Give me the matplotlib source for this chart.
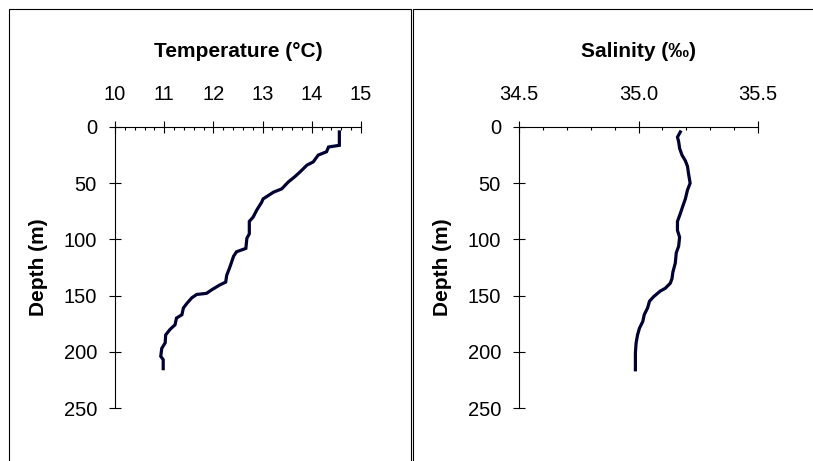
import matplotlib.pyplot as plt
from matplotlib.patches import Rectangle
from matplotlib.ticker import MultipleLocator, FormatStrFormatter

plt.rcParams['font.family'] = ['Liberation Sans', 'DejaVu Sans']

# temperature profile (deg C) vs depth (m)
temp = [14.56, 14.56, 14.34, 14.30, 14.13, 14.03, 13.90, 13.76, 13.66, 13.52,
        13.39, 13.22, 13.01, 12.98, 12.88, 12.81, 12.73, 12.73, 12.68, 12.66,
        12.47, 12.41, 12.34, 12.27, 12.25, 12.13, 11.96, 11.86, 11.66, 11.56,
        11.46, 11.39, 11.36, 11.25, 11.22, 11.12, 11.03, 11.02, 10.95, 10.93,
        10.98, 10.98]
temp_depth = [4.4, 16.3, 17.8, 22, 25, 31, 34, 40, 44, 49,
              55, 58, 64, 67, 74, 80, 84, 95, 99, 108,
              111, 115, 124, 132, 138, 140.5, 145, 148, 149, 152,
              157, 161, 167, 170, 176, 180, 185, 192, 197, 204,
              207, 215]

# salinity profile (permil) vs depth (m)
sal = [35.175, 35.163, 35.168, 35.172, 35.182, 35.196, 35.205, 35.209, 35.216,
       35.205, 35.196, 35.186, 35.175, 35.163, 35.163, 35.172, 35.168, 35.158,
       35.154, 35.144, 35.140, 35.133, 35.112, 35.091, 35.063, 35.046, 35.038,
       35.024, 35.018, 35.004, 34.996, 34.990, 34.987, 34.987]
sal_depth = [4.4, 9, 13, 19, 25, 30, 35, 41, 50,
             56, 64, 70, 77, 84, 92, 98, 106, 112,
             121, 129, 135, 139, 143.5, 146, 151, 155, 161,
             167, 173, 179, 185, 192, 201, 216]

fig = plt.figure(figsize=(8.13, 4.61), dpi=100)

# panel frames
fig.add_artist(Rectangle((9 / 813, -0.05), 402 / 813, 1.05 - 9 / 461,
                         transform=fig.transFigure, fill=False, lw=0.8, ec='black'))
fig.add_artist(Rectangle((413 / 813, -0.05), 0.6, 1.05 - 9 / 461,
                         transform=fig.transFigure, fill=False, lw=0.8, ec='black'))


def setup(ax, x, y, xlim, major, minor, fmt, title, lx):
    ax.plot(x, y, color='#000033', lw=2.3, solid_joinstyle='miter')
    ax.set_xlim(*xlim)
    ax.set_ylim(250, 0)
    ax.xaxis.set_ticks_position('top')
    ax.xaxis.set_major_locator(MultipleLocator(major))
    ax.xaxis.set_minor_locator(MultipleLocator(minor))
    ax.xaxis.set_major_formatter(FormatStrFormatter(fmt))
    ax.yaxis.set_major_locator(MultipleLocator(50))
    ax.spines['right'].set_visible(False)
    ax.spines['bottom'].set_visible(False)
    for s in ['top', 'left']:
        ax.spines[s].set_linewidth(0.8)
    ax.tick_params(axis='x', which='major', direction='inout', length=8.6,
                   width=0.8, pad=12.5, labelsize=14.5)
    ax.tick_params(axis='x', which='minor', direction='in', length=2.5, width=0.8)
    ax.tick_params(axis='y', direction='inout', length=9, width=0.8,
                   pad=8.5, labelsize=14.5)
    ax.text(0.5, 1.27, title, transform=ax.transAxes, ha='center', va='center',
            fontsize=15, fontweight='bold')
    ax.text(lx, 0.5, 'Depth (m)', transform=ax.transAxes, rotation=90,
            ha='center', va='center', fontsize=15, fontweight='bold')


ax1 = fig.add_axes([115 / 813, 1 - 408 / 461, 246 / 813, 281 / 461])
setup(ax1, temp, temp_depth, (10, 15), 1, 0.2, '%d', 'Temperature (°C)', -0.31)

ax2 = fig.add_axes([519 / 813, 1 - 408 / 461, 239 / 813, 281 / 461])
setup(ax2, sal, sal_depth, (34.5, 35.5), 0.5, 0.1, '%.1f', 'Salinity (‰)', -0.32)

fig.savefig('out.png', dpi=100)
